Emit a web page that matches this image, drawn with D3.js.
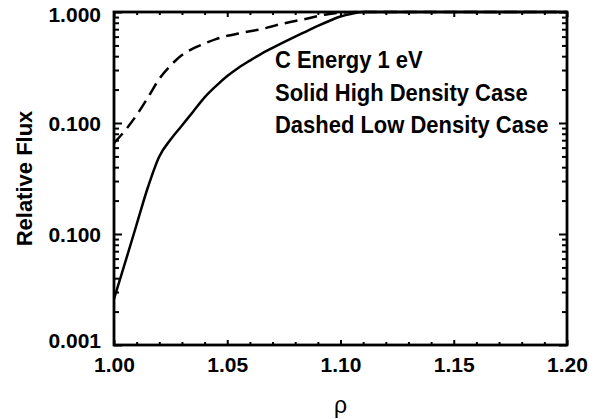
<!DOCTYPE html>
<html>
<head>
<meta charset="utf-8">
<script src="https://cdn.jsdelivr.net/npm/d3@7"></script>
<style>
  html, body { margin: 0; padding: 0; background: #fff; }
  svg { display: block; }
  text { font-family: "Liberation Sans", Arial, Helvetica, sans-serif; fill: #000; }
</style>
</head>
<body>
<svg id="chart" width="595" height="419"></svg>
<script>
// ---- data ----
const rho = [1.000, 1.005, 1.010, 1.015, 1.020, 1.025, 1.030, 1.035, 1.040, 1.045, 1.050,
             1.055, 1.060, 1.065, 1.070, 1.075, 1.080, 1.085, 1.090, 1.095, 1.100, 1.105,
             1.110, 1.150, 1.200];
const highDensityFlux = [0.0026, 0.0056, 0.0122, 0.0265, 0.050, 0.071, 0.095, 0.127, 0.17, 0.215, 0.265,
                         0.315, 0.365, 0.42, 0.475, 0.535, 0.60, 0.67, 0.75, 0.83, 0.91, 0.965,
                         1.0, 1.0, 1.0];
const lowDensityFlux = [0.066, 0.086, 0.118, 0.170, 0.25, 0.33, 0.41, 0.47, 0.52, 0.57, 0.61,
                        0.64, 0.67, 0.70, 0.745, 0.79, 0.83, 0.87, 0.92, 0.96, 0.985, 0.995,
                        1.0, 1.0, 1.0];
const xTickValues = [1.00, 1.05, 1.10, 1.15, 1.20];
const xTickLabels = ["1.00", "1.05", "1.10", "1.15", "1.20"];
const yTickValues = [0.001, 0.01, 0.1, 1];
const yTickLabels = ["0.001", "0.100", "0.100", "1.000"];
const annotations = ["C Energy 1 eV", "Solid High Density Case", "Dashed Low Density Case"];
const xTitle = "ρ";
const yTitle = "Relative Flux";

// ---- layout ----
const L = 114, R = 567, T = 12, B = 345;
const svg = d3.select("#chart");

const x = d3.scaleLinear().domain([1.0, 1.2]).range([L, R]);
const y = d3.scaleLog().domain([0.001, 1]).range([B, T]);

// minor ticks
const xMinor = d3.range(0, 21).map(i => 1 + i * 0.01).filter(v => Math.round(v * 100) % 5 !== 0);
const yMinor = [];
[0.001, 0.01, 0.1].forEach(d => { for (let k = 2; k <= 9; k++) yMinor.push(d * k); });

function styleAxis(g) {
  g.select(".domain").remove();
  g.selectAll(".tick line").attr("stroke", "#000").attr("stroke-width", 2);
}

// bottom axis
svg.append("g").attr("transform", `translate(0,${B})`)
  .call(d3.axisBottom(x).tickValues(xTickValues).tickSize(-5)
    .tickFormat((d, i) => xTickLabels[i]))
  .call(styleAxis)
  .call(g => g.selectAll(".tick text").attr("y", 27).attr("dy", 0)
    .style("font-size", "21px").style("font-weight", "bold"));
svg.append("g").attr("transform", `translate(0,${B})`)
  .call(d3.axisBottom(x).tickValues(xMinor).tickSize(-3).tickFormat(""))
  .call(styleAxis);
// top axis
svg.append("g").attr("transform", `translate(0,${T})`)
  .call(d3.axisTop(x).tickValues(xTickValues).tickSize(-5).tickFormat(""))
  .call(styleAxis);
svg.append("g").attr("transform", `translate(0,${T})`)
  .call(d3.axisTop(x).tickValues(xMinor).tickSize(-3).tickFormat(""))
  .call(styleAxis);
// left axis
const nY = yTickValues.length;
svg.append("g").attr("transform", `translate(${L},0)`)
  .call(d3.axisLeft(y).tickValues(yTickValues).tickSize(-8)
    .tickFormat((d, i) => yTickLabels[i]))
  .call(styleAxis)
  .call(g => g.selectAll(".tick text").attr("x", -13)
    .attr("dy", (d, i) => i === 0 ? "0.12em" : (i === nY - 1 ? "0.45em" : "0.36em"))
    .style("font-size", "21px").style("font-weight", "bold"));
svg.append("g").attr("transform", `translate(${L},0)`)
  .call(d3.axisLeft(y).tickValues(yMinor).tickSize(-5).tickFormat(""))
  .call(styleAxis);
// right axis
svg.append("g").attr("transform", `translate(${R},0)`)
  .call(d3.axisRight(y).tickValues(yTickValues).tickSize(-8).tickFormat(""))
  .call(styleAxis);
svg.append("g").attr("transform", `translate(${R},0)`)
  .call(d3.axisRight(y).tickValues(yMinor).tickSize(-5).tickFormat(""))
  .call(styleAxis);

// curves
svg.append("clipPath").attr("id", "plotclip")
  .append("rect").attr("x", L).attr("y", T - 2).attr("width", R - L).attr("height", B - T + 2);

const line = d3.line().x((d, i) => x(rho[i])).y(d => y(d)).curve(d3.curveMonotoneX);

svg.append("path").datum(highDensityFlux)
  .attr("d", line).attr("fill", "none").attr("stroke", "#000").attr("stroke-width", 2.5)
  .attr("clip-path", "url(#plotclip)");
svg.append("path").datum(lowDensityFlux)
  .attr("d", line).attr("fill", "none").attr("stroke", "#000").attr("stroke-width", 2.5)
  .attr("stroke-dasharray", "13,7")
  .attr("clip-path", "url(#plotclip)");

// frame
svg.append("rect").attr("x", L).attr("y", T).attr("width", R - L).attr("height", B - T)
  .attr("fill", "none").attr("stroke", "#000").attr("stroke-width", 2.8);

// annotations (taller, slightly condensed glyphs like the reference)
svg.append("g").selectAll("text").data(annotations).join("text")
  .attr("x", 275).attr("y", (d, i) => 68 + i * 32.5)
  .style("font-size", "24px").style("font-weight", "bold")
  .text(d => d)
  .each(function () {
    const w = this.getComputedTextLength();
    d3.select(this).attr("textLength", w * 0.915).attr("lengthAdjust", "spacingAndGlyphs");
  });

// axis titles
svg.append("text").attr("x", (L + R) / 2).attr("y", 413)
  .attr("text-anchor", "middle").style("font-size", "23px").text(xTitle);
svg.append("text")
  .attr("transform", `translate(32,${(T + B) / 2}) rotate(-90)`)
  .attr("text-anchor", "middle").style("font-size", "22px").style("font-weight", "bold")
  .text(yTitle);
</script>
</body>
</html>
